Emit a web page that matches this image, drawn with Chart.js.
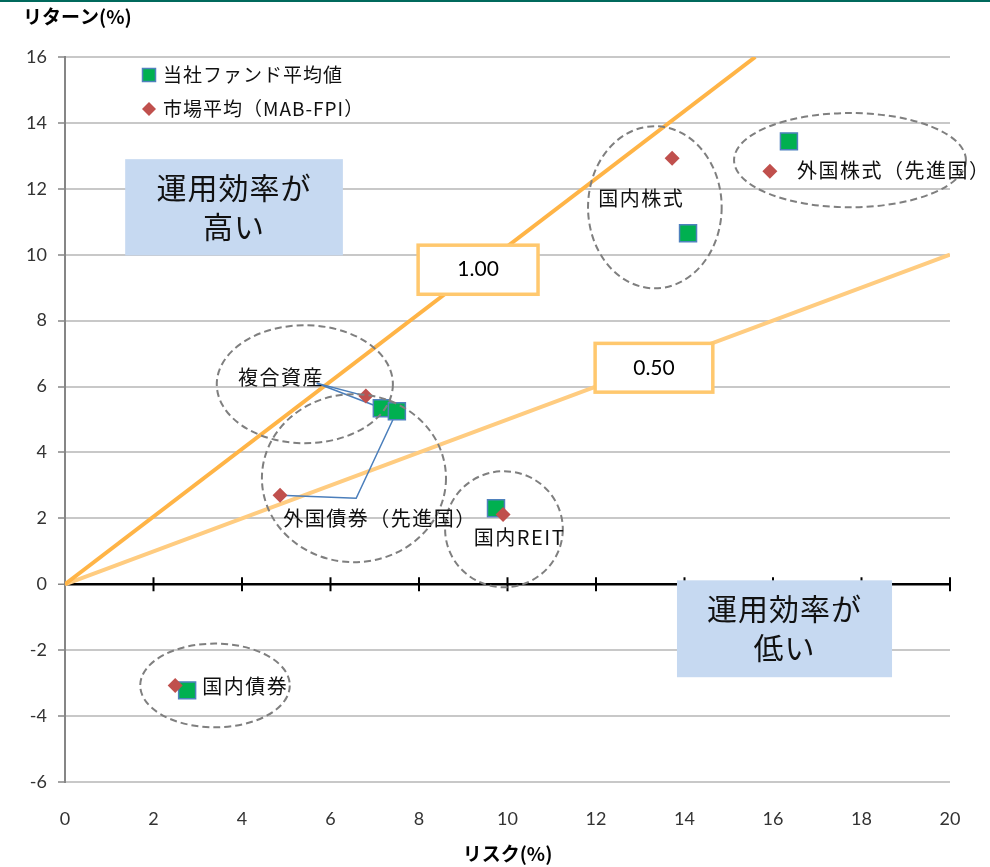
<!DOCTYPE html>
<html>
<head>
<meta charset="utf-8">
<script src="https://cdn.jsdelivr.net/npm/chart.js@4.4.0/dist/chart.umd.min.js"></script>
<style>
  html, body { margin: 0; padding: 0; background: #fff; }
  #wrap { position: relative; width: 990px; height: 867px; }
  #topline { position: absolute; left: 0; top: 0; width: 990px; height: 2px; background: #00695C; }
</style>
</head>
<body>
<div id="wrap">
  <canvas id="chart" width="990" height="867"></canvas>
  <div id="topline"></div>
</div>
<script>
// asset classes
const categories = ["国内株式", "外国株式（先進国）", "複合資産", "外国債券（先進国）", "国内REIT", "国内債券"];
const seriesNames = ["当社ファンド平均値", "市場平均（MAB-FPI）"];

// risk / return (%)
const fundRisk = [14.08, 16.36, 7.16, 7.50, 9.74, 2.76];
const fundReturn = [10.65, 13.44, 5.34, 5.25, 2.31, -3.22];
const marketRisk = [13.72, 15.93, 6.80, 4.86, 9.90, 2.49];
const marketReturn = [12.93, 12.53, 5.71, 2.70, 2.12, -3.07];

// efficiency lines (return / risk)
const effNames = ["1.00", "0.50"];
const effRisk = [[0, 15.6], [0, 20]];
const effReturn = [[0, 16], [0, 10]];

const xTickValues = [0, 2, 4, 6, 8, 10, 12, 14, 16, 18, 20];
const yTickValues = [-6, -4, -2, 0, 2, 4, 6, 8, 10, 12, 14, 16];

const JP = '"Noto Sans CJK JP", "Noto Sans", sans-serif';
const NUM = 'Lato, "Open Sans", sans-serif';

// annotations, in data units (risk, return)
const groupNotes = [
  { cat: 0, tx: 12.05, ty: 11.7, ell: [13.33, 11.44, 1.51, 2.46] },
  { cat: 1, tx: 16.54, ty: 12.56, ell: [17.74, 12.87, 2.62, 1.43] },
  { cat: 2, tx: 3.91, ty: 6.28, ell: [5.42, 6.07, 1.99, 1.79] },
  { cat: 3, tx: 4.93, ty: 2.0, ell: [6.53, 3.22, 2.08, 2.55] },
  { cat: 4, tx: 9.24, ty: 1.43, ell: [9.92, 1.67, 1.33, 1.76] },
  { cat: 5, tx: 3.10, ty: -3.1, ell: [3.39, -3.07, 1.69, 1.27] },
];
const effBoxes = [
  { i: 0, x0: 7.98, x1: 10.69, y0: 10.29, y1: 8.80 },
  { i: 1, x0: 11.98, x1: 14.64, y0: 7.31, y1: 5.83 },
];
const zoneBoxes = [
  { lines: ["運用効率が", "高い"], x0: 1.36, x1: 6.28, y0: 12.9, y1: 9.98 },
  { lines: ["運用効率が", "低い"], x0: 13.83, x1: 18.69, y0: 0.12, y1: -2.82 },
];
// leader lines from labels to points
const leaderMulti = { x: 5.69, y: 6.1 };
const leaderBondBend = { x: 6.58, y: 2.61 };

function pts(xs, ys) {
  return xs.map((x, i) => ({ x, y: ys[i] }));
}

const notesPlugin = {
  id: "notes",
  beforeDatasetsDraw(chart) {
    const { ctx, scales: { x, y } } = chart;
    const y0 = y.getPixelForValue(0);
    ctx.save();
    ctx.strokeStyle = "#000";
    ctx.lineWidth = 2;
    xTickValues.forEach((v) => {
      if (v === 0) return;
      const px = x.getPixelForValue(v);
      ctx.beginPath();
      ctx.moveTo(px, y0 - 7);
      ctx.lineTo(px, y0 + 7);
      ctx.stroke();
    });
    ctx.restore();
  },
  afterDatasetsDraw(chart) {
    const { ctx, chartArea, scales: { x, y } } = chart;
    ctx.save();

    // dashed ellipses
    ctx.strokeStyle = "#7f7f7f";
    ctx.lineWidth = 2;
    ctx.setLineDash([7, 4]);
    groupNotes.forEach((g) => {
      const [cx, cy, rx, ry] = g.ell;
      const px = x.getPixelForValue(cx);
      const py = y.getPixelForValue(cy);
      const prx = x.getPixelForValue(cx + rx) - px;
      const pry = py - y.getPixelForValue(cy + ry);
      ctx.beginPath();
      ctx.ellipse(px, py, prx, pry, 0, 0, Math.PI * 2);
      ctx.stroke();
    });
    ctx.setLineDash([]);

    // group labels
    ctx.fillStyle = "#111";
    ctx.font = `20px ${JP}`;
    ctx.letterSpacing = "1.5px";
    ctx.textAlign = "left";
    ctx.textBaseline = "middle";
    groupNotes.forEach((g) => {
      ctx.fillText(categories[g.cat], x.getPixelForValue(g.tx), y.getPixelForValue(g.ty));
    });
    ctx.letterSpacing = "0px";

    // efficiency labels
    effBoxes.forEach((b) => {
      const l = x.getPixelForValue(b.x0), r = x.getPixelForValue(b.x1);
      const t = y.getPixelForValue(b.y0), bt = y.getPixelForValue(b.y1);
      ctx.fillStyle = "#fff";
      ctx.fillRect(l, t, r - l, bt - t);
      ctx.strokeStyle = "#FFC86E";
      ctx.lineWidth = 3.5;
      ctx.strokeRect(l, t, r - l, bt - t);
      ctx.fillStyle = "#000";
      ctx.font = `21px ${NUM}`;
      ctx.textAlign = "center";
      ctx.fillText(effNames[b.i], (l + r) / 2, (t + bt) / 2);
    });

    // zone boxes
    zoneBoxes.forEach((b) => {
      const l = x.getPixelForValue(b.x0), r = x.getPixelForValue(b.x1);
      const t = y.getPixelForValue(b.y0), bt = y.getPixelForValue(b.y1);
      ctx.fillStyle = "#C6D9F1";
      ctx.fillRect(l, t, r - l, bt - t);
      ctx.fillStyle = "#111";
      ctx.font = `30px ${JP}`;
      ctx.letterSpacing = "1px";
      ctx.textAlign = "center";
      const mid = (t + bt) / 2;
      ctx.fillText(b.lines[0], (l + r) / 2, mid - 20);
      ctx.fillText(b.lines[1], (l + r) / 2, mid + 19);
      ctx.letterSpacing = "0px";
    });

    // legend inside plot
    const lx = chartArea.left + 84;
    const ly1 = chartArea.top + 18;
    const ly2 = chartArea.top + 52;
    ctx.fillStyle = "#00B050";
    ctx.strokeStyle = "#4F81BD";
    ctx.lineWidth = 1.5;
    ctx.fillRect(lx - 6.5, ly1 - 6.5, 13, 13);
    ctx.strokeRect(lx - 6.5, ly1 - 6.5, 13, 13);
    ctx.fillStyle = "#C0504D";
    ctx.beginPath();
    ctx.moveTo(lx, ly2 - 7);
    ctx.lineTo(lx + 7, ly2);
    ctx.lineTo(lx, ly2 + 7);
    ctx.lineTo(lx - 7, ly2);
    ctx.closePath();
    ctx.fill();
    ctx.fillStyle = "#111";
    ctx.font = `19px ${JP}`;
    ctx.letterSpacing = "1px";
    ctx.textAlign = "left";
    ctx.fillText(seriesNames[0], lx + 14, ly1);
    ctx.fillText(seriesNames[1], lx + 14, ly2);
    ctx.letterSpacing = "0px";

    ctx.restore();
  },
};

new Chart(document.getElementById("chart"), {
  type: "scatter",
  data: {
    datasets: [
      {
        label: seriesNames[1],
        data: pts(marketRisk, marketReturn),
        pointStyle: "rectRot",
        pointRadius: 7.5,
        pointHoverRadius: 7.5,
        backgroundColor: "#C0504D",
        borderColor: "#C0504D",
        borderWidth: 0,
        order: 1,
      },
      {
        label: seriesNames[0],
        data: pts(fundRisk, fundReturn),
        pointStyle: "rect",
        pointRadius: 12,
        pointHoverRadius: 12,
        backgroundColor: "#00B050",
        borderColor: "#4F81BD",
        borderWidth: 1.5,
        order: 2,
      },
      {
        label: "leader-multi-market",
        data: [leaderMulti, { x: marketRisk[2], y: marketReturn[2] }],
        showLine: true,
        pointRadius: 0,
        borderColor: "#4A7EBB",
        borderWidth: 1.5,
        order: 3,
      },
      {
        label: "leader-multi-fund",
        data: [leaderMulti, { x: fundRisk[2], y: fundReturn[2] }],
        showLine: true,
        pointRadius: 0,
        borderColor: "#4A7EBB",
        borderWidth: 1.5,
        order: 3,
      },
      {
        label: "leader-bond",
        data: [{ x: marketRisk[3], y: marketReturn[3] }, leaderBondBend, { x: fundRisk[3], y: fundReturn[3] }],
        showLine: true,
        pointRadius: 0,
        borderColor: "#4A7EBB",
        borderWidth: 1.5,
        order: 3,
      },
      {
        label: effNames[0],
        data: pts(effRisk[0], effReturn[0]),
        showLine: true,
        pointRadius: 0,
        borderColor: "#FFB446",
        borderWidth: 4,
        order: 5,
      },
      {
        label: effNames[1],
        data: pts(effRisk[1], effReturn[1]),
        showLine: true,
        pointRadius: 0,
        borderColor: "#FFCC80",
        borderWidth: 4,
        order: 5,
      },
    ],
  },
  options: {
    responsive: false,
    animation: false,
    events: [],
    layout: { padding: { left: 23, right: 40, top: 0, bottom: 0 } },
    plugins: {
      legend: { display: false },
      tooltip: { enabled: false },
      title: {
        display: true,
        text: "リターン(%)",
        align: "start",
        color: "#000",
        font: { family: JP, size: 19, weight: "bold" },
        padding: { top: 5, bottom: 29.2 },
      },
    },
    scales: {
      x: {
        type: "linear",
        min: 0,
        max: 20,
        afterBuildTicks: (s) => { s.ticks = xTickValues.map((v) => ({ value: v })); },
        afterFit: (s) => { s.height = 85; },
        grid: { display: false },
        border: { display: false },
        ticks: { color: "#333", font: { family: NUM, size: 18 }, padding: 18, maxRotation: 0 },
        title: {
          display: true,
          text: "リスク(%)",
          color: "#000",
          font: { family: JP, size: 19, weight: "bold" },
          padding: { top: 0, bottom: 2 },
        },
      },
      y: {
        type: "linear",
        min: -6,
        max: 16,
        afterBuildTicks: (s) => { s.ticks = yTickValues.map((v) => ({ value: v })); },
        afterFit: (s) => { s.width = 42; },
        grid: {
          color: (c) => (c.tick && c.tick.value === 0 ? "#000" : "#C8C8C8"),
          lineWidth: (c) => (c.tick && c.tick.value === 0 ? 2.5 : 2),
          tickColor: "#868686",
          tickLength: 7,
          tickWidth: 1.5,
        },
        border: { color: "#868686", width: 2 },
        ticks: { color: "#333", font: { family: NUM, size: 18 }, padding: 11 },
      },
    },
  },
  plugins: [notesPlugin],
});
</script>
</body>
</html>
